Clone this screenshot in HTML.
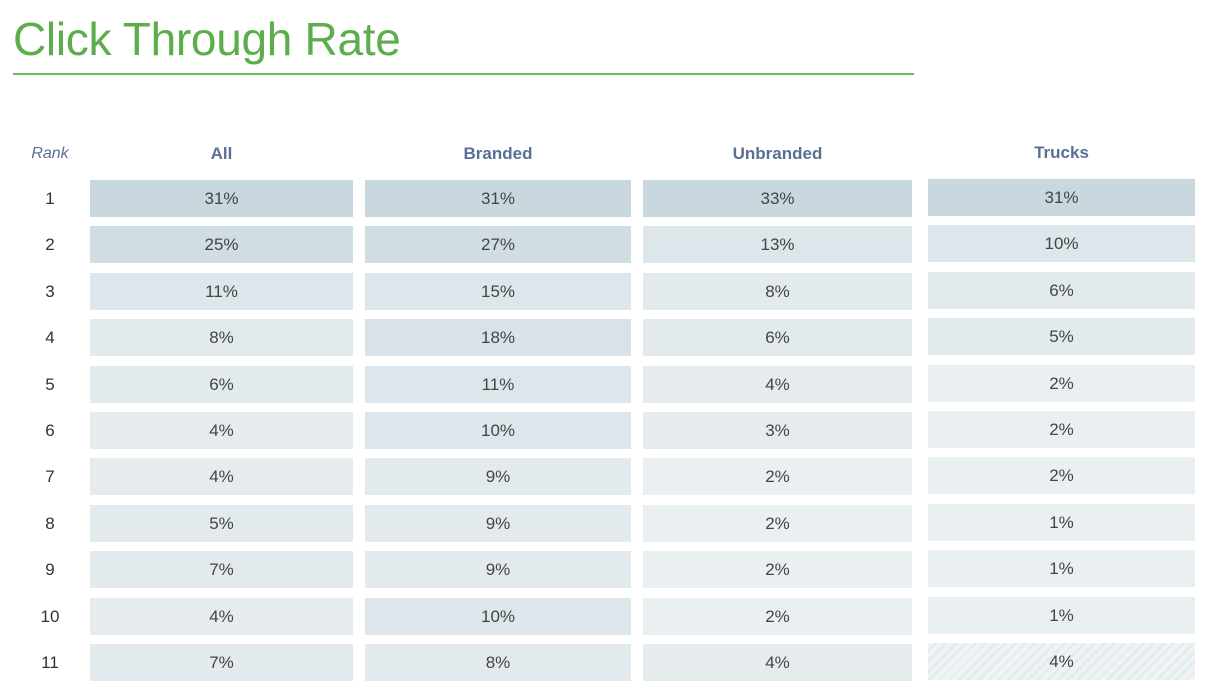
<!DOCTYPE html>
<html><head><style>
body{margin:0;width:1208px;height:691px;background:#fff;font-family:"Liberation Sans",sans-serif;position:relative;overflow:hidden}
.t{position:absolute;left:13px;top:12px;font-size:46px;color:#5cae4c;letter-spacing:-0.3px}
.l{position:absolute;left:13px;top:73px;width:901px;height:2px;background:#6cbb5c}
.h{position:absolute;top:144px;font-size:17px;font-weight:bold;color:#5a6f94;text-align:center}
.c{position:absolute;height:37px;line-height:37px;text-align:center;font-size:17px;color:#444}
.r{position:absolute;left:30px;width:40px;text-align:center;font-size:17px;color:#333;height:37px;line-height:37px}
</style></head><body>
<div class="t">Click Through Rate</div><div class="l"></div>
<div class="h" style="left:20px;width:60px;font-weight:normal;font-style:italic;font-size:16px;top:145px">Rank</div>
<div class="h" style="left:90px;width:263px">All</div>
<div class="h" style="left:365px;width:266px">Branded</div>
<div class="h" style="left:643px;width:269px">Unbranded</div>
<div class="h" style="left:928px;width:267px;top:143px">Trucks</div>
<div id="g"></div>
<script>
const d=[[31,31,33,31],[25,27,13,10],[11,15,8,6],[8,18,6,5],[6,11,4,2],[4,10,3,2],[4,9,2,2],[5,9,2,1],[7,9,2,1],[4,10,2,1],[7,8,4,4]];
const cols=[[90,263],[365,266],[643,269],[928,267]];
function col(v){if(v>=30)return"#c9d8df";if(v>=20)return"#d0dde3";if(v>=16)return"#d8e2e8";if(v>=10)return"#dde6eb";if(v>=5)return"#e3eaed";if(v>=3)return"#e6ecee";return"#eaeff1";}
let h="";
d.forEach((row,i)=>{const y=180+i*46.4;
h+=`<div class="r" style="top:${y}px">${i+1}</div>`;
row.forEach((v,j)=>{let bg=col(v);let yy=j==3?y-1:y;
if(i==10&&j==3)bg="repeating-linear-gradient(135deg,#eef3f4 0 5px,#e2eaed 5px 7px)";
h+=`<div class="c" style="left:${cols[j][0]}px;width:${cols[j][1]}px;top:${yy}px;background:${bg}">${v}%</div>`;});});
document.getElementById("g").innerHTML=h;
</script>
</body></html>
